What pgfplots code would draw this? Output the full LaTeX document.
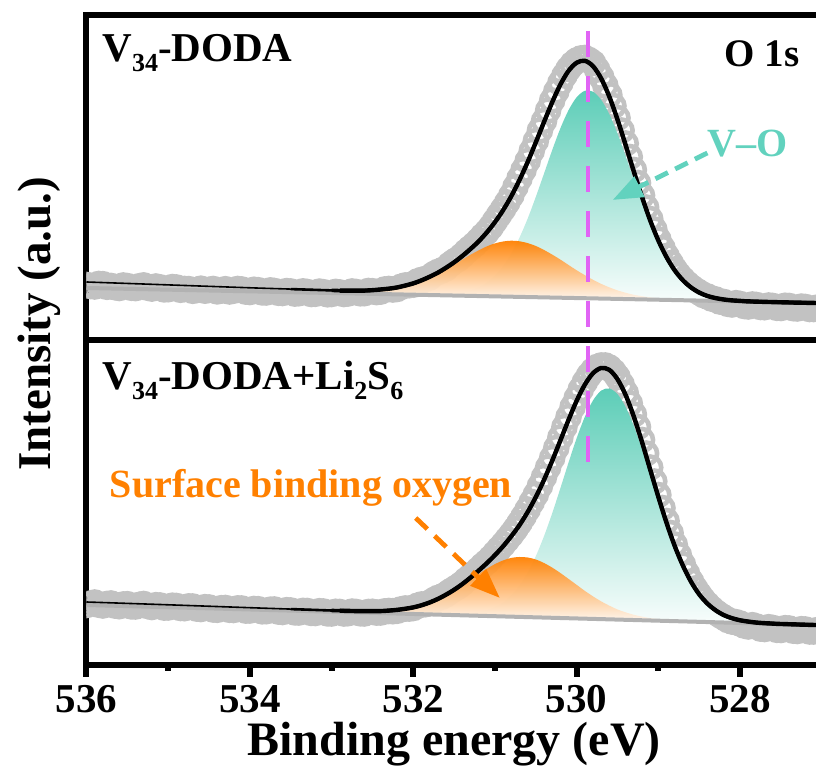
\documentclass[border=0pt]{standalone}
\usepackage{fontspec}
\setmainfont{Liberation Serif}
\usepackage{pgfplots}
\usepackage{pgfplotstable}
\pgfplotsset{compat=1.18}
\usetikzlibrary{arrows.meta}
\definecolor{tealc}{RGB}{92,205,183}
\definecolor{tealtxt}{RGB}{98,210,190}
\definecolor{orangec}{RGB}{255,128,0}
\definecolor{magc}{RGB}{225,100,245}
\definecolor{grayc}{RGB}{194,194,194}
\newcommand\sub[1]{\raisebox{-5pt}{\fontsize{13}{13}\selectfont #1}}

% ---------------- upper panel: V34-DODA ----------------
\pgfplotstableread{
E v
536.00 55.0
535.95 54.0
535.90 53.5
535.85 56.0
535.80 55.8
535.75 53.2
535.70 54.0
535.65 52.8
535.60 52.0
535.55 54.5
535.50 53.9
535.45 52.2
535.40 51.9
535.35 53.8
535.30 54.6
535.25 52.3
535.20 51.4
535.15 53.5
535.10 52.6
535.05 50.6
535.00 50.8
534.95 52.9
534.90 52.5
534.85 50.2
534.80 51.0
534.75 50.9
534.70 49.2
534.65 50.0
534.60 51.3
534.55 49.3
534.50 50.1
534.45 51.0
534.40 48.6
534.35 49.4
534.30 50.8
534.25 48.5
534.20 49.3
534.15 51.0
534.10 50.5
534.05 48.4
534.00 48.0
533.95 50.2
533.90 49.8
533.85 47.6
533.80 47.5
533.75 49.6
533.70 49.0
533.65 47.2
533.60 47.0
533.55 48.9
533.50 48.5
533.45 46.4
533.40 46.8
533.35 48.6
533.30 48.0
533.25 46.0
533.20 46.2
533.15 48.4
533.10 47.8
533.05 45.7
533.00 46.0
532.95 48.1
532.90 47.5
532.85 46.0
532.80 46.5
532.75 48.5
532.70 48.0
532.65 46.7
532.60 46.8
532.55 49.0
532.50 48.8
532.45 47.9
532.40 48.4
532.35 50.5
532.30 51.0
532.25 50.5
532.20 51.0
532.15 53.2
532.10 54.5
532.05 54.8
532.00 55.3
531.95 58.5
531.90 60.0
531.85 61.0
531.80 62.5
531.75 65.8
531.70 68.0
531.65 69.6
531.60 71.6
531.55 75.5
531.50 78.5
531.45 81.0
531.40 84.5
531.35 88.5
531.30 92.0
531.25 95.5
531.20 99.5
531.15 104.0
531.10 108.0
531.05 113.0
531.00 119.0
530.95 125.0
530.90 131.0
530.85 137.5
530.80 144.5
530.75 153.0
530.70 161.5
530.65 170.0
530.60 179.0
530.55 189.0
530.50 199.0
530.45 209.5
530.40 219.0
530.35 229.5
530.30 239.5
530.25 248.5
530.20 257.0
530.15 264.5
530.10 271.0
530.05 276.0
530.00 279.5
529.95 281.5
529.90 282.0
529.85 280.0
529.80 277.0
529.75 270.5
529.70 263.0
529.65 254.5
529.60 245.0
529.55 234.0
529.50 222.0
529.45 209.5
529.40 196.5
529.35 183.0
529.30 170.0
529.25 157.0
529.20 144.5
529.15 132.5
529.10 121.0
529.05 110.5
529.00 100.5
528.95 92.0
528.90 84.0
528.85 77.0
528.80 70.5
528.75 65.0
528.70 60.5
528.65 56.5
528.60 53.0
528.55 50.0
528.50 47.5
528.45 45.0
528.40 43.5
528.35 41.5
528.30 40.5
528.25 38.5
528.20 38.0
528.15 36.2
528.10 35.5
528.05 36.8
528.00 36.0
527.95 34.0
527.90 33.5
527.85 35.5
527.80 35.0
527.75 33.0
527.70 32.8
527.65 34.5
527.60 34.0
527.55 32.2
527.50 32.0
527.45 34.2
527.40 34.0
527.35 31.8
527.30 31.5
527.25 33.4
527.20 33.0
527.15 31.0
527.10 31.0
527.05 32.5
527.00 32.0
}\rawU

\pgfplotstableread{
E v
536.0 58.0
535.0 55.1
534.0 52.2
533.5 50.9
533.0 49.6
532.9 49.4
532.8 49.3
532.7 49.3
532.6 49.4
532.5 49.8
532.4 50.5
532.3 51.3
532.2 52.5
532.1 54.4
532.0 56.6
531.9 59.6
531.8 63.2
531.7 67.3
531.6 72.2
531.5 77.7
531.4 84.0
531.3 91.0
531.2 98.6
531.1 107.6
531.0 117.9
530.9 129.9
530.8 143.9
530.7 160.0
530.6 178.0
530.5 197.7
530.4 218.0
530.3 237.7
530.2 255.4
530.1 269.1
530.0 277.3
529.9 279.2
529.8 273.8
529.7 261.5
529.6 243.2
529.5 220.3
529.4 194.7
529.3 168.3
529.2 142.9
529.1 119.5
529.0 99.4
528.9 82.8
528.8 69.6
528.7 59.7
528.6 52.5
528.5 47.4
528.4 44.0
528.3 41.9
528.2 40.5
528.1 39.6
528.0 39.1
527.9 38.6
527.5 37.7
527.0 36.9
}\fitU

\pgfplotstableread{
E v
531.9 45.1
531.8 45.2
531.7 45.3
531.6 45.6
531.5 46.1
531.4 47.4
531.3 49.3
531.2 52.4
531.1 57.3
531.0 64.2
530.9 73.7
530.8 86.5
530.7 102.4
530.6 121.4
530.5 143.2
530.4 166.4
530.3 189.8
530.2 211.6
530.1 229.8
530.0 242.8
529.9 249.2
529.8 248.3
529.7 240.1
529.6 225.7
529.5 206.3
529.4 183.6
529.3 159.8
529.2 136.4
529.1 114.8
529.0 96.0
528.9 80.5
528.8 68.1
528.7 58.7
528.6 51.9
528.5 47.1
528.4 43.9
528.3 41.8
528.2 40.4
528.1 39.5
528.0 39.0
527.9 38.4
}\tealU

\pgfplotstableread{
E v
532.8 47.1
532.7 47.3
532.6 47.5
532.5 48.0
532.4 48.8
532.3 49.7
532.2 51.1
532.1 53.1
532.0 55.4
531.9 58.4
531.8 61.9
531.7 66.0
531.6 70.5
531.5 75.3
531.4 80.3
531.3 85.2
531.2 89.6
531.1 93.6
531.0 96.6
530.9 98.5
530.8 99.3
530.7 98.7
530.6 96.9
530.5 94.0
530.4 90.0
530.3 85.4
530.2 80.4
530.1 75.0
530.0 69.7
529.9 64.8
529.8 60.2
529.7 56.1
529.6 52.6
529.5 49.6
529.4 47.2
529.3 45.2
529.2 43.8
529.1 42.6
529.0 41.7
528.9 41.1
528.8 40.5
528.7 40.1
528.6 39.8
}\orangeU

% ---------------- lower panel: V34-DODA+Li2S6 ----------------
\pgfplotstableread{
E v
536.00 60.0
535.95 61.5
535.90 62.5
535.85 60.3
535.80 59.5
535.75 61.0
535.70 61.5
535.65 59.4
535.60 58.8
535.55 60.5
535.50 60.8
535.45 58.6
535.40 58.5
535.35 60.2
535.30 61.0
535.25 59.0
535.20 58.0
535.15 59.8
535.10 59.5
535.05 57.4
535.00 57.5
534.95 59.3
534.90 59.0
534.85 57.0
534.80 56.8
534.75 58.6
534.70 58.5
534.65 56.4
534.60 56.0
534.55 57.8
534.50 57.5
534.45 55.5
534.40 55.2
534.35 56.8
534.30 57.0
534.25 55.2
534.20 55.0
534.15 56.6
534.10 56.5
534.05 54.4
534.00 54.5
533.95 56.0
533.90 55.8
533.85 53.7
533.80 53.8
533.75 55.3
533.70 55.5
533.65 53.4
533.60 53.0
533.55 54.8
533.50 54.5
533.45 52.6
533.40 52.5
533.35 54.1
533.30 54.0
533.25 52.1
533.20 52.0
533.15 53.8
533.10 53.5
533.05 51.6
533.00 51.5
532.95 53.2
532.90 53.0
532.85 51.5
532.80 51.8
532.75 53.4
532.70 53.0
532.65 51.7
532.60 51.5
532.55 53.0
532.50 53.2
532.45 52.4
532.40 52.5
532.35 53.6
532.30 54.0
532.25 53.8
532.20 54.2
532.15 55.6
532.10 56.5
532.05 56.4
532.00 57.0
531.95 59.2
531.90 60.5
531.85 60.8
531.80 62.0
531.75 64.8
531.70 67.0
531.65 68.4
531.60 70.5
531.55 73.5
531.50 76.0
531.45 78.5
531.40 81.5
531.35 85.2
531.30 88.5
531.25 91.8
531.20 95.5
531.15 99.5
531.10 103.0
531.05 107.0
531.00 111.5
530.95 116.0
530.90 120.5
530.85 125.5
530.80 130.5
530.75 136.0
530.70 142.0
530.65 148.5
530.60 155.5
530.55 163.0
530.50 170.5
530.45 179.0
530.40 188.0
530.35 197.5
530.30 207.0
530.25 217.0
530.20 227.5
530.15 238.0
530.10 248.0
530.05 258.0
530.00 267.0
529.95 275.5
529.90 283.0
529.85 289.5
529.80 294.5
529.75 298.0
529.70 299.5
529.65 299.5
529.60 297.5
529.55 293.5
529.50 288.0
529.45 280.5
529.40 272.0
529.35 261.5
529.30 250.5
529.25 238.0
529.20 225.0
529.15 211.5
529.10 197.5
529.05 183.5
529.00 170.0
528.95 157.0
528.90 144.0
528.85 132.0
528.80 120.5
528.75 110.0
528.70 100.5
528.65 91.5
528.60 83.5
528.55 76.5
528.50 70.5
528.45 65.0
528.40 60.5
528.35 56.5
528.30 53.0
528.25 50.0
528.20 47.5
528.15 45.0
528.10 43.5
528.05 42.8
528.00 41.5
527.95 39.5
527.90 38.5
527.85 39.8
527.80 38.5
527.75 36.4
527.70 36.0
527.65 37.8
527.60 37.0
527.55 35.2
527.50 35.0
527.45 36.8
527.40 36.5
527.35 34.3
527.30 34.0
527.25 35.8
527.20 35.5
527.15 33.5
527.10 33.5
527.05 35.0
527.00 34.5
}\rawL

\pgfplotstableread{
E v
536.0 63.0
535.0 60.2
534.0 57.3
533.5 55.9
533.0 54.5
532.9 54.3
532.8 54.1
532.7 53.9
532.6 53.9
532.5 53.9
532.4 53.9
532.3 54.4
532.2 55.1
532.1 56.2
532.0 57.6
531.9 59.7
531.8 62.5
531.7 66.0
531.6 70.3
531.5 75.2
531.4 80.9
531.3 87.4
531.2 94.4
531.1 101.8
531.0 109.9
530.9 118.8
530.8 128.8
530.7 139.9
530.6 153.0
530.5 168.0
530.4 185.1
530.3 204.2
530.2 224.5
530.1 245.0
530.0 264.3
529.9 280.4
529.8 291.8
529.7 297.0
529.6 295.1
529.5 285.7
529.4 269.8
529.3 248.2
529.2 222.8
529.1 195.3
529.0 168.0
528.9 142.1
528.8 119.0
528.7 99.4
528.6 83.2
528.5 70.6
528.4 61.4
528.3 54.7
528.2 49.9
528.1 46.8
528.0 44.7
527.9 43.4
527.8 42.4
527.7 41.8
527.6 41.4
527.5 41.0
527.0 39.8
}\fitL

\pgfplotstableread{
E v
531.7 50.5
531.6 50.4
531.5 50.4
531.4 50.7
531.3 51.3
531.2 52.5
531.1 54.4
531.0 57.6
530.9 62.5
530.8 69.6
530.7 79.3
530.6 92.4
530.5 108.9
530.4 128.8
530.3 151.7
530.2 176.7
530.1 202.4
530.0 226.9
529.9 248.2
529.8 264.6
529.7 274.4
529.6 276.5
529.5 270.8
529.4 257.8
529.3 238.8
529.2 215.5
529.1 189.8
529.0 163.8
528.9 139.0
528.8 116.8
528.7 97.8
528.6 82.2
528.5 70.1
528.4 61.0
528.3 54.4
528.2 49.8
528.1 46.7
528.0 44.7
527.9 43.4
527.8 42.4
527.7 41.8
527.6 41.4
}\tealL

\pgfplotstableread{
E v
532.7 52.9
532.6 52.9
532.5 53.0
532.4 53.1
532.3 53.6
532.2 54.4
532.1 55.5
532.0 57.0
531.9 59.2
531.8 62.0
531.7 65.5
531.6 69.6
531.5 74.4
531.4 79.7
531.3 85.3
531.2 91.0
531.1 96.2
531.0 100.9
530.9 104.6
530.8 107.1
530.7 108.0
530.6 107.5
530.5 105.5
530.4 102.0
530.3 97.4
530.2 92.0
530.1 86.1
530.0 80.1
529.9 74.1
529.8 68.6
529.7 63.6
529.6 59.3
529.5 55.5
529.4 52.6
529.3 50.2
529.2 48.4
529.1 46.9
529.0 45.9
528.9 45.1
528.8 44.5
528.7 44.1
528.6 43.6
}\orangeL

\begin{document}
\begin{tikzpicture}
\pgfplotsset{
  panel/.style={
    scale only axis, width=367.65pt, height=162.5pt,
    xmin=527, xmax=536, x dir=reverse,
    ymin=0, ymax=325, ytick=\empty,
    axis line style={line width=3pt, black},
    anchor=south west,
    clip marker paths=true,
  },
}
% ===== upper =====
\begin{axis}[panel, at={(0pt,162.5pt)}, xtick=\empty]
  \addplot[only marks, mark=o, mark size=5.5pt, mark options={draw=grayc, fill=none, line width=2.3pt}] table {\rawU};
  \addplot[draw=none, top color=tealc, bottom color=tealc!4, smooth] table {\tealU};
  \addplot[draw=none, top color=orangec, bottom color=orangec!6, fill opacity=0.95, smooth] table {\orangeU};
  \addplot[grayc!92!black, line width=2pt] coordinates {(536,52.0) (527,36.9)};
  \addplot[black, line width=0.8pt, smooth] table {\fitU};
  \addplot[black, line width=1.3pt, smooth, restrict x to domain=527:533.8] table {\fitU};
  \addplot[black, line width=1.8pt, smooth, restrict x to domain=527:533.3] table {\fitU};
  \addplot[black, line width=2.2pt, smooth, restrict x to domain=527:532.9] table {\fitU};
  \draw[tealtxt, line width=2.4pt, dash pattern=on 7pt off 4pt, -{Triangle[length=15pt,width=11pt]}]
     (axis cs:528.40,187) -- (axis cs:529.56,140);
  \node[anchor=base west, inner sep=0pt, font=\fontsize{20.5}{24}\selectfont\bfseries] at (axis cs:535.81,278) {V\sub{34}-DODA};
  \node[anchor=base east, inner sep=0pt, font=\fontsize{19.5}{23}\selectfont\bfseries] at (axis cs:527.27,273) {O 1s};
  \node[anchor=base west, inner sep=0pt, text=tealtxt, font=\fontsize{20}{24}\selectfont\bfseries] at (axis cs:528.405,183) {V--O};
  \coordinate (mtop) at (axis cs:529.86,309);
\end{axis}
% ===== lower =====
\begin{axis}[panel, at={(0pt,0pt)},
    xtick={528,530,532,534,536}, minor xtick={527,529,531,533,535},
    xtick pos=left, tick align=outside,
    major tick length=6pt, minor tick length=3pt,
    every major tick/.append style={line width=3pt, black},
    every minor tick/.append style={line width=3pt, black},
    /pgf/number format/assume math mode=true,
    xticklabel style={font=\fontsize{20.5}{24}\selectfont\bfseries, inner sep=0pt, yshift=-4pt},
    xlabel={Binding energy (eV)},
    xlabel style={font=\fontsize{24}{28}\selectfont\bfseries, at={(axis description cs:0.5,0)}, anchor=base, inner sep=0pt, yshift=-45.5pt},
  ]
  \addplot[only marks, mark=o, mark size=5.5pt, mark options={draw=grayc, fill=none, line width=2.3pt}] table {\rawL};
  \addplot[draw=none, top color=tealc, bottom color=tealc!4, smooth] table {\tealL};
  \addplot[draw=none, top color=orangec, bottom color=orangec!6, fill opacity=0.95, smooth] table {\orangeL};
  \addplot[grayc!92!black, line width=2pt] coordinates {(536,60.0) (527,39.8)};
  \addplot[black, line width=0.8pt, smooth] table {\fitL};
  \addplot[black, line width=1.3pt, smooth, restrict x to domain=527:533.8] table {\fitL};
  \addplot[black, line width=1.8pt, smooth, restrict x to domain=527:533.3] table {\fitL};
  \addplot[black, line width=2.2pt, smooth, restrict x to domain=527:532.9] table {\fitL};
  \draw[orangec, line width=2.4pt, dash pattern=on 8pt off 5pt, -{Triangle[length=15pt,width=11pt]}]
     (axis cs:531.97,147) -- (axis cs:530.94,67);
  \node[anchor=base west, inner sep=0pt, font=\fontsize{20.5}{24}\selectfont\bfseries] at (axis cs:535.81,275) {V\sub{34}-DODA+Li\sub{2}S\sub{6}};
  \node[anchor=base west, inner sep=0pt, text=orangec, font=\fontsize{20}{24}\selectfont\bfseries] at (axis cs:535.72,167) {Surface binding oxygen};
  \coordinate (mbot) at (axis cs:529.86,202);
\end{axis}
\draw[magc, line width=2.2pt, dash pattern=on 13pt off 9.5pt] (mtop) -- (mbot);
\node[rotate=90, anchor=base, inner sep=0pt, font=\fontsize{23.5}{28}\selectfont\bfseries] at (-18.25pt,170.5pt) {Intensity (a.u.)};
\pgfresetboundingbox
\useasboundingbox (-43.25pt,-55pt) rectangle (364.75pt,332.5pt);
\end{tikzpicture}
\end{document}
